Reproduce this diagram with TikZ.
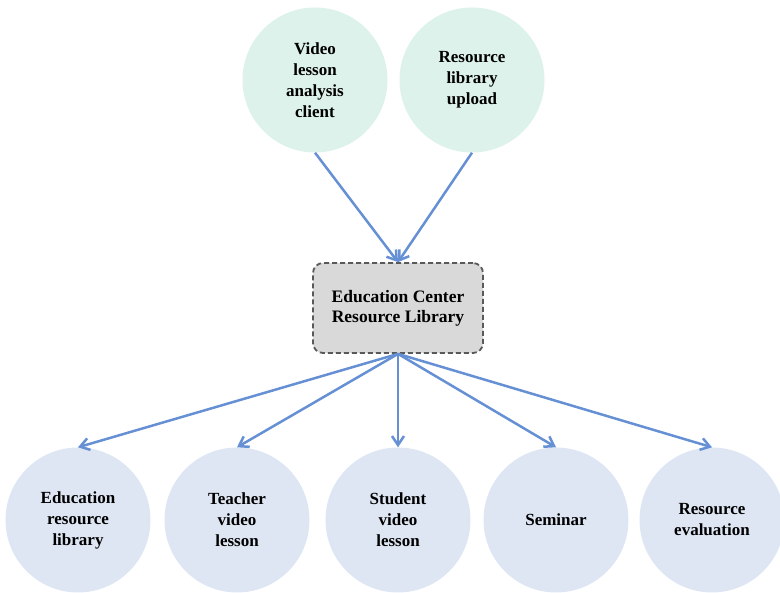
\documentclass[tikz,border=0pt]{standalone}
\usepackage{fontspec}
\setmainfont{Liberation Serif}
\usepackage{xcolor}
\usetikzlibrary{arrows.meta, positioning}

\definecolor{srcgreen}{HTML}{DDF2EA}
\definecolor{outblue}{HTML}{DEE6F3}
\definecolor{hubgray}{HTML}{D9D9D9}
\definecolor{linkblue}{HTML}{6690D4}

\tikzset{
  srcnode/.style={
    circle, fill=srcgreen, minimum size=145pt, inner sep=0pt,
    align=center, font=\fontsize{17}{21}\selectfont\bfseries
  },
  outnode/.style={
    circle, fill=outblue, minimum size=145pt, inner sep=0pt,
    align=center, font=\fontsize{17}{21}\selectfont\bfseries
  },
  hubnode/.style={
    draw=black!65, dash pattern=on 5pt off 3pt, line width=1.8pt,
    rounded corners=10pt, fill=hubgray,
    minimum width=170pt, minimum height=90pt,
    align=center, font=\fontsize{17.5}{20}\selectfont\bfseries
  },
  linkarrow/.style={
    -{Straight Barb[length=9pt, width=12pt, line width=2.5pt]},
    line width=2.5pt, color=linkblue
  },
}

\begin{document}
\begin{tikzpicture}[x=1pt, y=1pt]
  \useasboundingbox (0,0) rectangle (780,593);

  % Sources
  \node[srcnode] (client) at (315,513) {Video\\lesson\\analysis\\client};
  \node[srcnode] (upload) at (472,513) {Resource\\library\\upload};

  % Central library
  \node[hubnode] (hub) at (398,285) {Education Center\\Resource Library};

  % Outputs
  \node[outnode] (edulib)  at (78,73)  {Education\\resource\\library};
  \node[outnode] (teacher) at (237,73) {Teacher\\video\\lesson};
  \node[outnode] (student) at (398,73) {Student\\video\\lesson};
  \node[outnode] (seminar) at (556,73) {Seminar};
  \node[outnode] (evalres) at (712,73) {Resource\\evaluation};

  % Arrows
  \draw[linkarrow] (client.south) -- (hub.north);
  \draw[linkarrow] (upload.south) -- (hub.north);
  \foreach \t in {edulib, teacher, student, seminar, evalres}
    \draw[linkarrow] (hub.south) -- (\t.north);
\end{tikzpicture}
\end{document}
